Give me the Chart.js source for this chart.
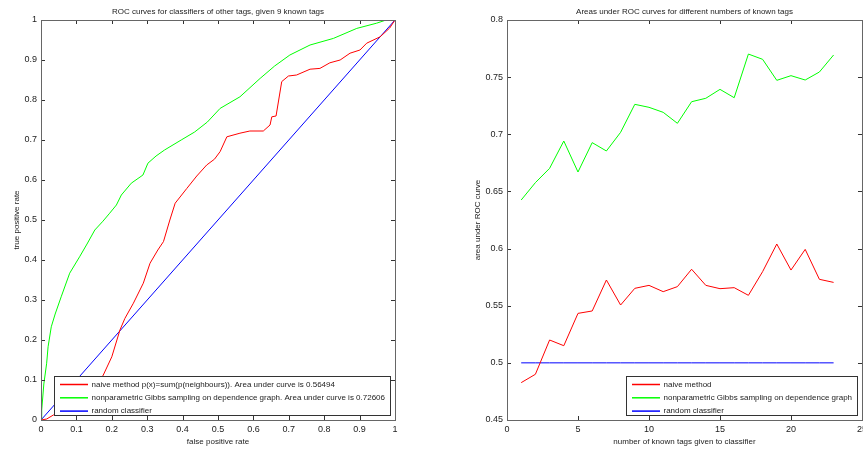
<!DOCTYPE html>
<html>
<head>
<meta charset="utf-8">
<script src="https://cdn.jsdelivr.net/npm/chart.js@4.4.0/dist/chart.umd.min.js"></script>
<style>
html, body { margin: 0; padding: 0; background: #fff; overflow: hidden; width: 863px; height: 449px; }
canvas { position: absolute; top: 0; }
#roc { left: 0; }
#auc { left: 431px; }
</style>
</head>
<body>
<canvas id="roc" width="431" height="449"></canvas>
<canvas id="auc" width="440" height="449"></canvas>
<script>
// left plot: ROC curves, given 9 known tags
const naiveFpr = [0, 0.016, 0.035, 0.07, 0.11, 0.15, 0.176, 0.2, 0.223, 0.237, 0.261, 0.289, 0.308, 0.33, 0.346, 0.364, 0.379, 0.412, 0.44, 0.468, 0.49, 0.506, 0.525, 0.562, 0.59, 0.628, 0.647, 0.652, 0.664, 0.68, 0.699, 0.722, 0.76, 0.788, 0.816, 0.845, 0.873, 0.901, 0.92, 0.958, 0.985, 1];
const naiveTpr = [0, 0.0025, 0.0125, 0.025, 0.045, 0.075, 0.1125, 0.158, 0.225, 0.254, 0.292, 0.342, 0.392, 0.425, 0.446, 0.5, 0.542, 0.579, 0.61, 0.6375, 0.652, 0.671, 0.708, 0.717, 0.7225, 0.7225, 0.7375, 0.758, 0.76, 0.846, 0.86, 0.8625, 0.877, 0.879, 0.893, 0.9, 0.917, 0.925, 0.942, 0.958, 0.98, 1];
const gibbsFpr = [0, 0.002, 0.008, 0.016, 0.02, 0.029, 0.04, 0.057, 0.081, 0.109, 0.13, 0.152, 0.175, 0.194, 0.213, 0.227, 0.255, 0.288, 0.302, 0.325, 0.349, 0.396, 0.434, 0.47, 0.506, 0.562, 0.619, 0.66, 0.703, 0.76, 0.826, 0.892, 0.948, 0.975, 1];
const gibbsTpr = [0, 0.025, 0.09, 0.142, 0.183, 0.233, 0.265, 0.308, 0.367, 0.408, 0.44, 0.475, 0.497, 0.517, 0.5375, 0.5625, 0.592, 0.6125, 0.642, 0.66, 0.675, 0.7, 0.72, 0.745, 0.779, 0.808, 0.854, 0.885, 0.9125, 0.9375, 0.954, 0.979, 0.992, 1, 1];
const randomFpr = [0, 1];
const randomTpr = [0, 1];
const rocTicks = [0, 0.1, 0.2, 0.3, 0.4, 0.5, 0.6, 0.7, 0.8, 0.9, 1];

// right plot: AUC against number of known tags
const knownTags = [1, 2, 3, 4, 5, 6, 7, 8, 9, 10, 11, 12, 13, 14, 15, 16, 17, 18, 19, 20, 21, 22, 23];
const aucNaive = [0.4827, 0.49, 0.52, 0.515, 0.5433, 0.5454, 0.5725, 0.5506, 0.5652, 0.5678, 0.5623, 0.5667, 0.5819, 0.5678, 0.5649, 0.5658, 0.5591, 0.5798, 0.604, 0.5812, 0.5993, 0.5731, 0.5704];
const aucGibbs = [0.6425, 0.6577, 0.6702, 0.6941, 0.667, 0.6927, 0.6854, 0.7017, 0.7262, 0.7236, 0.7192, 0.7096, 0.7285, 0.7315, 0.7393, 0.732, 0.7702, 0.7656, 0.7472, 0.7513, 0.7475, 0.7545, 0.7694];
const aucRandom = [0.5, 0.5, 0.5, 0.5, 0.5, 0.5, 0.5, 0.5, 0.5, 0.5, 0.5, 0.5, 0.5, 0.5, 0.5, 0.5, 0.5, 0.5, 0.5, 0.5, 0.5, 0.5, 0.5];
const aucXTicks = [0, 5, 10, 15, 20, 25];
const aucYTicks = [0.45, 0.5, 0.55, 0.6, 0.65, 0.7, 0.75, 0.8];

const FONT = '"Liberation Sans", Arial, Helvetica, sans-serif';
const TEXT = '#222';

function pairs(xs, ys) {
    return xs.map((x, i) => ({ x: x, y: ys[i] }));
}

function series(label, xs, ys, color) {
    return {
        label: label,
        data: pairs(xs, ys),
        showLine: true,
        borderColor: color,
        backgroundColor: color,
        borderWidth: 1,
        pointRadius: 0,
        tension: 0
    };
}

// matlab style box with inward ticks on all four sides
const frame = {
    id: 'frame',
    afterDatasetsDraw(chart) {
        const { ctx, chartArea: a, scales: { x, y } } = chart;
        ctx.save();
        ctx.strokeStyle = '#333';
        ctx.lineWidth = 1;
        ctx.beginPath();
        x.ticks.forEach(t => {
            const px = Math.round(x.getPixelForValue(t.value)) + 0.5;
            ctx.moveTo(px, a.bottom); ctx.lineTo(px, a.bottom - 4);
            ctx.moveTo(px, a.top); ctx.lineTo(px, a.top + 4);
        });
        y.ticks.forEach(t => {
            const py = Math.round(y.getPixelForValue(t.value)) + 0.5;
            ctx.moveTo(a.left, py); ctx.lineTo(a.left + 4, py);
            ctx.moveTo(a.right, py); ctx.lineTo(a.right - 4, py);
        });
        ctx.stroke();
        ctx.strokeStyle = '#666';
        ctx.strokeRect(a.left + 0.5, a.top + 0.5, a.width, a.height);
        ctx.restore();
    },
    afterDraw(chart, args, opts) {
        const { ctx, chartArea: a } = chart;
        ctx.save();
        ctx.font = '8px ' + FONT;
        ctx.fillStyle = TEXT;
        ctx.textAlign = 'center';
        ctx.textBaseline = 'middle';
        ctx.fillText(opts.title, (a.left + a.right) / 2, 12);
        ctx.restore();
    }
};

// legend box in the lower right corner of the axes
const boxLegend = {
    id: 'boxLegend',
    afterDraw(chart) {
        const { ctx, chartArea: a } = chart;
        const sets = chart.data.datasets;
        ctx.save();
        ctx.font = '8px ' + FONT;
        const textW = Math.max(...sets.map(d => ctx.measureText(d.label).width));
        const w = Math.round(37 + textW + 5);
        const h = 39;
        const x0 = Math.round(a.right - 5 - w);
        const y0 = Math.round(a.bottom - 5 - h);
        ctx.fillStyle = '#fff';
        ctx.fillRect(x0, y0, w, h);
        ctx.strokeStyle = '#333';
        ctx.lineWidth = 1;
        ctx.strokeRect(x0 + 0.5, y0 + 0.5, w, h);
        sets.forEach((d, i) => {
            const yy = y0 + 8.5 + i * 13.3;
            ctx.strokeStyle = d.borderColor;
            ctx.lineWidth = 1.5;
            ctx.beginPath();
            ctx.moveTo(x0 + 6, yy);
            ctx.lineTo(x0 + 34, yy);
            ctx.stroke();
            ctx.fillStyle = TEXT;
            ctx.textBaseline = 'middle';
            ctx.textAlign = 'left';
            ctx.fillText(d.label, x0 + 37.5, yy);
        });
        ctx.restore();
    }
};

function axis(min, max, values, titleText, titlePad, fit) {
    return {
        type: 'linear',
        min: min,
        max: max,
        grid: { display: false, drawTicks: false },
        border: { display: false },
        afterBuildTicks: scale => { scale.ticks = values.map(v => ({ value: v })); },
        afterFit: fit,
        ticks: {
            autoSkip: false,
            maxRotation: 0,
            padding: 4,
            color: TEXT,
            font: { family: FONT, size: 9 },
            callback: v => String(Math.round(v * 100) / 100)
        },
        title: {
            display: true,
            text: titleText,
            color: TEXT,
            font: { family: FONT, size: 8 },
            padding: titlePad
        }
    };
}

function makeChart(id, datasets, title, xAxis, yAxis, pad) {
    return new Chart(document.getElementById(id), {
        type: 'scatter',
        data: { datasets: datasets },
        options: {
            responsive: false,
            animation: false,
            events: [],
            layout: { padding: pad },
            scales: { x: xAxis, y: yAxis },
            plugins: {
                legend: { display: false },
                tooltip: { enabled: false },
                frame: { title: title }
            }
        },
        plugins: [frame, boxLegend]
    });
}

makeChart('roc', [
    series('naive method p(x)=sum(p(neighbours)). Area under curve is 0.56494', naiveFpr, naiveTpr, '#ff0000'),
    series('nonparametric Gibbs sampling on dependence graph. Area under curve is 0.72606', gibbsFpr, gibbsTpr, '#00ff00'),
    series('random classifier', randomFpr, randomTpr, '#0000ff')
], 'ROC curves for classifiers of other tags, given 9 known tags',
    axis(0, 1, rocTicks, 'false positive rate', { top: 0, bottom: 2.5 }, s => { s.height = 29; }),
    axis(0, 1, rocTicks, 'true positive rate', { top: 12.2, bottom: 0 }, s => { s.width = 41; }),
    { top: 20, right: 36, bottom: 0, left: 0 });

makeChart('auc', [
    series('naive method', knownTags, aucNaive, '#ff0000'),
    series('nonparametric Gibbs sampling on dependence graph', knownTags, aucGibbs, '#00ff00'),
    series('random classifier', knownTags, aucRandom, '#0000ff')
], 'Areas under ROC curves for different numbers of known tags',
    axis(0, 25, aucXTicks, 'number of known tags given to classifier', { top: 0, bottom: 2.5 }, s => { s.height = 29; }),
    axis(0.45, 0.8, aucYTicks, 'area under ROC curve', { top: 42.2, bottom: 0 }, s => { s.width = 76; }),
    { top: 20, right: 9, bottom: 0, left: 0 });
</script>
</body>
</html>
